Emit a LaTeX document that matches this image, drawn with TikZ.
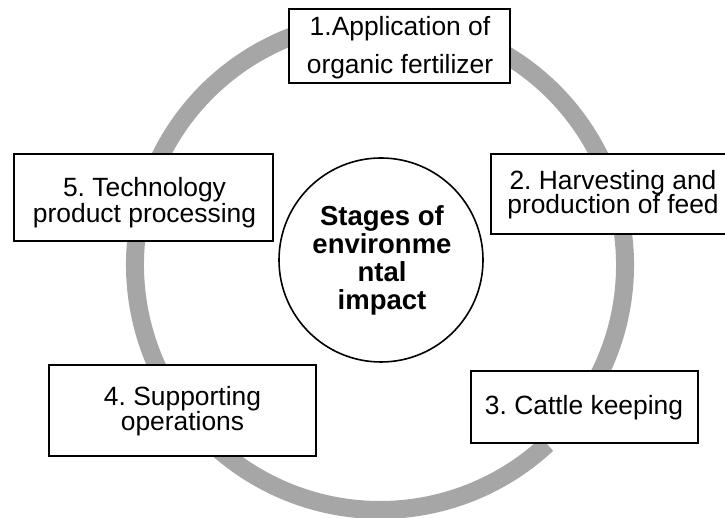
\documentclass[tikz,border=0pt]{standalone}
\usepackage{fontspec}
\setmainfont{Liberation Sans}
\definecolor{ringgray}{HTML}{A6A6A6}
\frenchspacing
\begin{document}
\begin{tikzpicture}[x=1pt,y=1pt,
  stagebox/.style={draw=black, line width=1.6pt, fill=white, rectangle, inner sep=0pt},
  hubcircle/.style={draw=black, line width=1.6pt, fill=white, circle, inner sep=0pt, minimum size=204pt},
  boxtxt/.style={font=\fontsize{26.4}{26.4}\selectfont, anchor=base, inner sep=0pt},
  hubtxt/.style={font=\fontsize{27.5}{27.5}\selectfont\bfseries, anchor=base, inner sep=0pt},
  ringline/.style={draw=ringgray, line width=18pt}]
\useasboundingbox (0,0) rectangle (725,518);
\clip (0,0) rectangle (725,518);
\coordinate (ringc) at (380,253);
\draw[ringline] (ringc) ++(-30:245pt) arc[start angle=-30, end angle=313, radius=245pt];

\node[stagebox, minimum width=221pt, minimum height=74pt] (b1) at (399.5,472) {};
\node[stagebox, minimum width=244pt, minimum height=80pt] (b2) at (613,324) {};
\node[stagebox, minimum width=227pt, minimum height=72pt] (b3) at (584.5,111) {};
\node[stagebox, minimum width=267pt, minimum height=91pt] (b4) at (182.5,107.5) {};
\node[stagebox, minimum width=259pt, minimum height=87pt] (b5) at (143.5,320.5) {};
\node[hubcircle] (hub) at (381,258) {};

\node[boxtxt] (t1a) at (400,482) {1.Application of};
\node[boxtxt] (t1b) at (400,444) {organic fertilizer};
\node[boxtxt] (t2a) at (613,328.7) {2. Harvesting and};
\node[boxtxt] (t2b) at (613,304) {production of feed};
\node[boxtxt] (t3a) at (584,103) {3. Cattle keeping};
\node[boxtxt] (t4a) at (182.5,112) {4. Supporting};
\node[boxtxt] (t4b) at (182.5,87) {operations};
\node[boxtxt] (t5a) at (144.5,321.3) {5. Technology};
\node[boxtxt] (t5b) at (144.5,295.3) {product processing};

\node[hubtxt] (h1) at (382,292) {Stages of};
\node[hubtxt] (h2) at (382,264) {environme};
\node[hubtxt] (h3) at (382,236.3) {ntal};
\node[hubtxt] (h4) at (382,208) {impact};
\end{tikzpicture}
\end{document}
